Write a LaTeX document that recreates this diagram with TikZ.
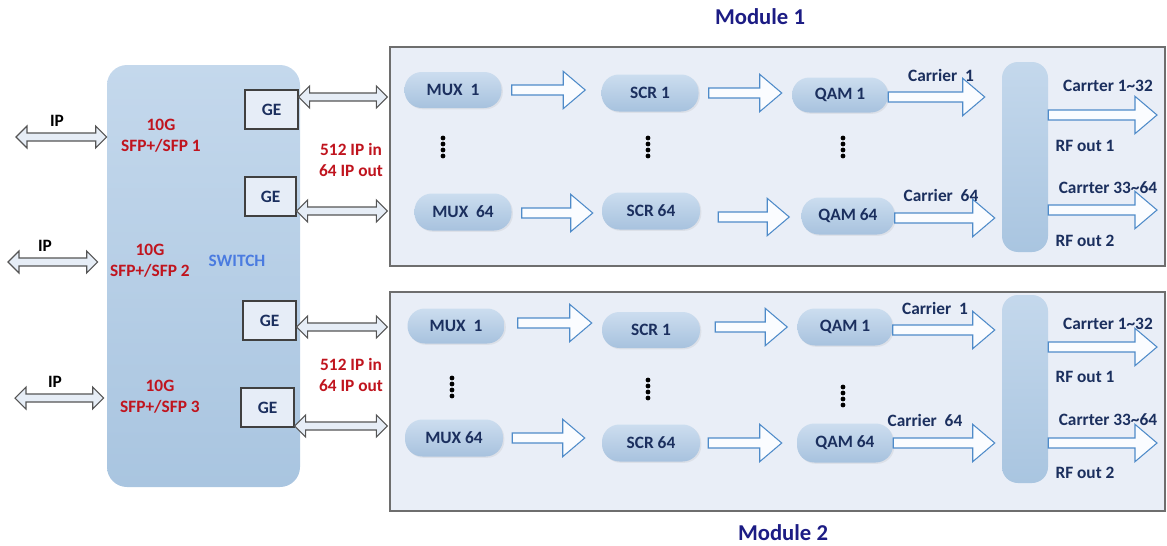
\documentclass[tikz,border=0pt]{standalone}
\usepackage{fontspec}
\setmainfont{Carlito}
\usetikzlibrary{calc,shadows}
\definecolor{modfill}{HTML}{E9EEF7}
\definecolor{modline}{HTML}{6E6E6E}
\definecolor{swtop}{HTML}{C4D8EC}
\definecolor{swbot}{HTML}{A9C5E0}
\definecolor{pilltop}{HTML}{CCDDEF}
\definecolor{pillbot}{HTML}{A7C2DE}
\definecolor{gefill}{HTML}{E6EDF7}
\definecolor{blkline}{HTML}{4F8BC9}
\definecolor{blkfill}{HTML}{FAFCFF}
\definecolor{dblline}{HTML}{555555}
\definecolor{dblfill}{HTML}{E6EDF6}
\definecolor{redc}{HTML}{C0141E}
\definecolor{navy}{HTML}{1B2F5E}
\definecolor{titlec}{HTML}{1C1C84}
\definecolor{swc}{HTML}{4A7BE0}
\tikzset{
  sz/.style 2 args={minimum width=#1*0.75pt, minimum height=#2*0.75pt, inner sep=0pt},
  modbox/.style={rectangle, fill=modfill, draw=modline, line width=1pt},
  pill/.style={rectangle, rounded corners=13pt, top color=pilltop, bottom color=pillbot, draw=none, text=navy,
    drop shadow={opacity=0.12, shadow xshift=1pt, shadow yshift=-1pt}},
  barbox/.style={rectangle, rounded corners=12pt, top color=swtop, bottom color=swbot, draw=none},
  gebox/.style={rectangle, fill=gefill, draw=black!75, line width=0.9pt, text=navy},
  lbl/.style={text=navy, inner sep=0pt},
  redlbl/.style={text=redc, align=center, inner sep=0pt},
  blk/.style={draw=blkline, fill=blkfill, line width=0.8pt, line join=miter},
  dbl/.style={draw=dblline, fill=dblfill, line width=0.8pt, line join=miter},
}
% hollow block arrow from #1 to the x of #2, at the y of #1
\newcommand\blockarr[2]{\path[blk] let \p1=#1, \p2=#2 in
  (\x1,\y1+3.75pt) -- (\x2-16.5pt,\y1+3.75pt) -- (\x2-16.5pt,\y1+14pt) -- (\x2,\y1)
  -- (\x2-16.5pt,\y1-14pt) -- (\x2-16.5pt,\y1-3.75pt) -- (\x1,\y1-3.75pt) -- cycle;}
% hollow double arrow from #1 to the x of #2, at the y of #1
\newcommand\dblarr[2]{\path[dbl] let \p1=#1, \p2=#2 in
  (\x1,\y1) -- (\x1+8.25pt,\y1+8.25pt) -- (\x1+8.25pt,\y1+3pt) -- (\x2-8.25pt,\y1+3pt)
  -- (\x2-8.25pt,\y1+8.25pt) -- (\x2,\y1) -- (\x2-8.25pt,\y1-8.25pt) -- (\x2-8.25pt,\y1-3pt)
  -- (\x1+8.25pt,\y1-3pt) -- (\x1+8.25pt,\y1-8.25pt) -- cycle;}
\begin{document}
\begin{tikzpicture}[x=0.75pt,y=-0.75pt, font=\fontsize{13}{16}\selectfont\bfseries]
\useasboundingbox (0,0) rectangle (1167,546);

% titles
\node[text=titlec, font=\fontsize{17}{20}\selectfont\bfseries] (t1) at (760,17) {Module 1};
\node[text=titlec, font=\fontsize{17}{20}\selectfont\bfseries] (t2) at (783,533) {Module 2};

% switch
\node[rectangle, rounded corners=15pt, top color=swtop, bottom color=swbot, draw=none, sz={193}{422}] (sw) at (203.5,276) {};
\node[text=swc, inner sep=0pt] (swl) at (237,261) {SWITCH};
\node[redlbl] (sfp1) at (161,136) {10G\\SFP+/SFP 1};
\node[redlbl] (sfp2) at (150,261) {10G\\SFP+/SFP 2};
\node[redlbl] (sfp3) at (160,397) {10G\\SFP+/SFP 3};

% GE boxes
\node[gebox, sz={53}{39}] (ge1) at (271.5,109.5) {GE};
\node[gebox, sz={51}{39}] (ge2) at (270.5,196.5) {GE};
\node[gebox, sz={53}{39}] (ge3) at (269.5,320.5) {GE};
\node[gebox, sz={53}{39}] (ge4) at (267.5,407.5) {GE};

% IP arrows
\coordinate (ip1) at (16,137);
\coordinate (ip2) at (8,262);
\coordinate (ip3) at (15,398);
\dblarr{(ip1)}{(sw.west)}
\dblarr{(ip2)}{($(sw.west)+(-9,0)$)}
\dblarr{(ip3)}{($(sw.west)+(-3,0)$)}
\node[inner sep=0pt, text=black] (ipl1) at (57,121) {IP};
\node[inner sep=0pt, text=black] (ipl2) at (45,246) {IP};
\node[inner sep=0pt, text=black] (ipl3) at (55,382) {IP};

% module boxes
\node[modbox, sz={775}{219}] (m1) at (777.5,156.5) {};
\node[modbox, sz={775}{219}] (m2) at (777.5,401.5) {};

% GE to module arrows
\dblarr{($(ge1.east)+(0,-12.5)$)}{($(m1.west)+(-2,0)$)}
\dblarr{($(ge2.east)+(0,14.5)$)}{($(m1.west)+(-2,0)$)}
\dblarr{($(ge3.east)+(0,6.5)$)}{($(m2.west)+(-2,0)$)}
\dblarr{($(ge4.east)+(0,18.5)$)}{($(m2.west)+(-2,0)$)}

\node[redlbl] (ipio1) at (351,160) {512 IP in\\64 IP out};
\node[redlbl] (ipio2) at (351,375) {512 IP in\\64 IP out};

% ---- Module 1
\node[pill, sz={97}{36}] (mux1a) at (453,90) {MUX\ \ 1};
\node[pill, sz={97}{37}] (scr1a) at (650,93) {SCR 1};
\node[pill, sz={96}{35}] (qam1a) at (840,95) {QAM 1};
\node[pill, sz={97}{37}] (mux64a) at (463,212) {MUX\ \ 64};
\node[pill, sz={98}{37}] (scr64a) at (651,211) {SCR 64};
\node[pill, sz={93}{37}] (qam64a) at (848,216) {QAM 64};
\node[barbox, sz={46}{190}] (bara) at (1025,157) {};
\coordinate (out1a) at (1157,115);
\coordinate (out2a) at (1157,210);

\blockarr{($(mux1a.east)+(10,0)$)}{($(scr1a.west)+(-16,0)$)}
\blockarr{($(scr1a.east)+(10,0)$)}{($(qam1a.west)+(-10,0)$)}
\blockarr{($(mux64a.east)+(10,1)$)}{($(scr64a.west)+(-9,0)$)}
\blockarr{($(scr64a.east)+(18,6)$)}{($(qam64a.west)+(-12,0)$)}
\blockarr{($(qam1a.east)+(0,2)$)}{($(bara.west)+(-17,0)$)}
\blockarr{($(qam64a.east)+(0,2)$)}{($(bara.west)+(-7,0)$)}
\blockarr{(bara.east |- out1a)}{(out1a)}
\blockarr{(bara.east |- out2a)}{(out2a)}

\node[lbl] (c1a) at (941,75) {Carrier\ \ 1};
\node[lbl] (c64a) at (941,195) {Carrier\ \ 64};
\node[lbl] (ct1a) at (1108,86) {Carrter 1\textasciitilde32};
\node[lbl] (ct2a) at (1108,188) {Carrter 33\textasciitilde64};
\node[lbl] (rf1a) at (1085,146) {RF out 1};
\node[lbl] (rf2a) at (1085,241) {RF out 2};

% ---- Module 2
\node[pill, sz={97}{35}] (mux1b) at (456,326) {MUX\ \ 1};
\node[pill, sz={98}{36}] (scr1b) at (651,330) {SCR 1};
\node[pill, sz={95}{37}] (qam1b) at (845,327) {QAM 1};
\node[pill, sz={98}{37}] (mux64b) at (454,438) {MUX 64};
\node[pill, sz={98}{37}] (scr64b) at (651,443) {SCR 64};
\node[pill, sz={96}{39}] (qam64b) at (845,443) {QAM 64};
\node[barbox, sz={46}{188}] (barb) at (1025,389) {};
\coordinate (out1b) at (1157,347);
\coordinate (out2b) at (1157,443);

\blockarr{($(mux1b.east)+(13,-3)$)}{($(scr1b.west)+(-10,0)$)}
\blockarr{($(scr1b.east)+(15,-3)$)}{($(qam1b.west)+(-10,0)$)}
\blockarr{($(mux64b.east)+(9,0)$)}{($(scr64b.west)+(-17,0)$)}
\blockarr{($(scr64b.east)+(8,0)$)}{($(qam64b.west)+(-15,0)$)}
\blockarr{($(qam1b.east)+(0,3)$)}{($(barb.west)+(-7,0)$)}
\blockarr{(qam64b.east)}{($(barb.west)+(-7,0)$)}
\blockarr{(barb.east |- out1b)}{(out1b)}
\blockarr{(barb.east |- out2b)}{(out2b)}

\node[lbl] (c1b) at (935,308) {Carrier\ \ 1};
\node[lbl] (c64b) at (925,420) {Carrier\ \ 64};
\node[lbl] (ct1b) at (1108,324) {Carrter 1\textasciitilde32};
\node[lbl] (ct2b) at (1108,420) {Carrter 33\textasciitilde64};
\node[lbl] (rf1b) at (1085,377) {RF out 1};
\node[lbl] (rf2b) at (1085,473) {RF out 2};

% vertical ellipses
\foreach \x/\y in {443/138, 648/138, 843/138, 452/378, 648/380, 843/387}
  \foreach \d in {0,6,12,18}
    \fill[black] (\x,\y+\d) circle (1.8pt);
\end{tikzpicture}
\end{document}
